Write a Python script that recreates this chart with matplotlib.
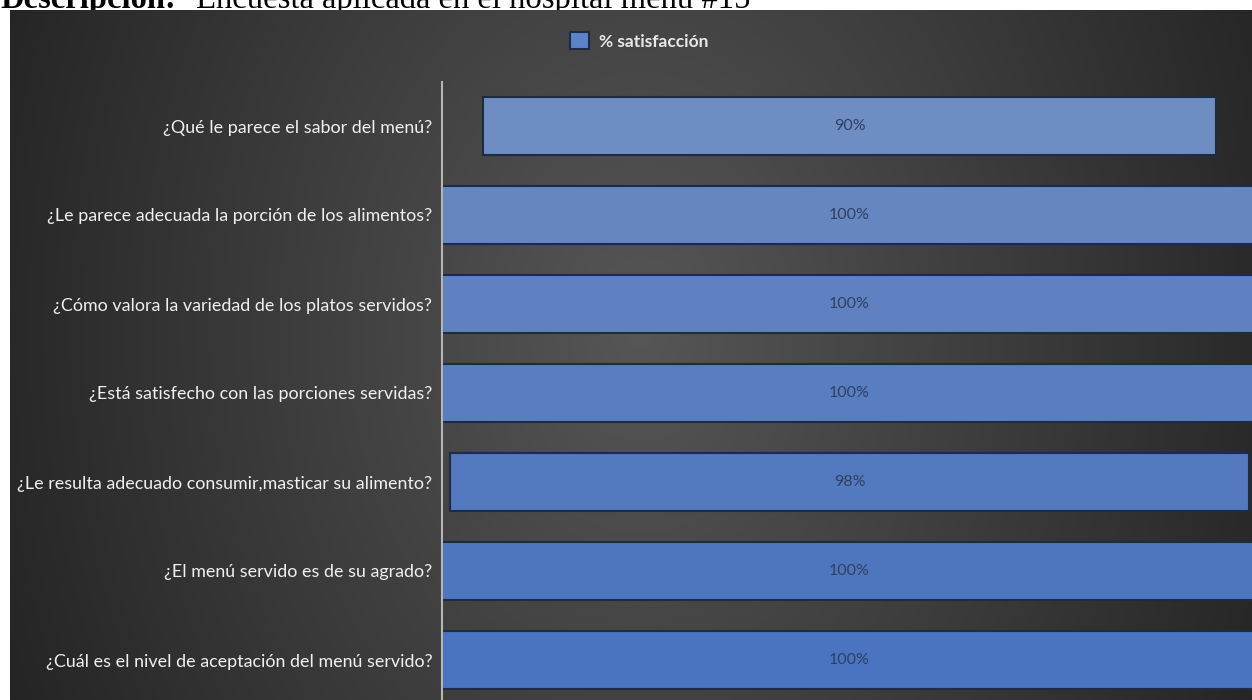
import numpy as np
import matplotlib
matplotlib.use("Agg")
import matplotlib.pyplot as plt

# ---- data ----
categories = [
    "¿Qué le parece el sabor del menú?",
    "¿Le parece adecuada la porción de los alimentos?",
    "¿Cómo valora la variedad de los platos servidos?",
    "¿Está satisfecho con las porciones servidas?",
    "¿Le resulta adecuado consumir,masticar su alimento?",
    "¿El menú servido es de su agrado?",
    "¿Cuál es el nivel de aceptación del menú servido?",
]
values = [90, 100, 100, 100, 98, 100, 100]
value_labels = [f"{v}%" for v in values]
series_name = "% satisfacción"
title_bold = "Descripción:"
title_rest = "Encuesta aplicada en el hospital menú #15"

W, H = 1252, 700
fig = plt.figure(figsize=(W / 100, H / 100), dpi=100)
fig.patch.set_facecolor("white")

# ---- title strip (partially hidden behind the chart image) ----
t1 = fig.text(0.0, 1 - 8 / H, title_bold, family="Liberation Serif",
              fontweight="bold", fontsize=23.5, va="baseline", ha="left",
              color="black", zorder=-1)
renderer = fig.canvas.get_renderer()
bb = t1.get_window_extent(renderer)
fig.text((bb.x1 + 20) / W, 1 - 8 / H, title_rest, family="Liberation Serif",
         fontsize=23.5, va="baseline", ha="left", color="black", zorder=-1)

# ---- dark gradient background ----
bg = fig.add_axes([10 / W, 0, 1 - 10 / W, 1 - 10 / H], zorder=0)
bw, bh = W - 10, H - 10
xx, yy = np.meshgrid(np.arange(bw) + 10, np.arange(bh) + 10)
r = np.sqrt(((xx - 640) / 640) ** 2 + ((yy - 330) / 850) ** 2)
L = (86 - 46 * np.clip(r, 0, 1.15)) / 255
img = np.dstack([L, L, L])
bg.imshow(img, aspect="auto", extent=[0, 1, 0, 1], origin="upper")
bg.set_axis_off()

# ---- main axes ----
ax = fig.add_axes([442 / W, -4.5 / H, (1257 - 442) / W, 623 / H], zorder=1)
ax.set_facecolor("none")
y = np.arange(len(categories))
lefts = [(100 - v) / 2 for v in values]
bar_colors = ["#6e8ec3", "#6686c2", "#5f81c2", "#597dc1", "#5379bf", "#4e76bf", "#4a73c0"]
ax.barh(y, values, left=lefts, height=0.65, color=bar_colors,
        edgecolor="#1d2b45", linewidth=1.5, label=series_name)
for yi, lab in zip(y, value_labels):
    ax.text(50, yi, lab, ha="center", va="center", color="#2f4060",
            fontsize=11.5, family="Lato")

ax.set_xlim(0, 100)
ax.set_ylim(len(categories) - 0.5, -0.5)
ax.set_yticks(y)
ax.set_yticklabels(categories, family="Lato", fontsize=12.9, color="#f0f0f0")
ax.tick_params(axis="y", length=0, pad=7)
ax.set_xticks([])
for s in ["top", "right", "bottom"]:
    ax.spines[s].set_visible(False)
ax.spines["left"].set_color("#b5b5b5")
ax.spines["left"].set_linewidth(1.5)

# ---- legend ----
h, l = ax.get_legend_handles_labels()
leg = fig.legend(h[:1], l[:1], loc="center", bbox_to_anchor=(639 / W, 1 - 41 / H),
                 frameon=False, prop=dict(family="Lato", weight="bold", size=12.5),
                 labelcolor="#e8e8e8", handlelength=1.1, handleheight=1.1,
                 handletextpad=0.55)
leg.legend_handles[0].set_facecolor("#5b84c8")

fig.savefig("out.png", dpi=100)
